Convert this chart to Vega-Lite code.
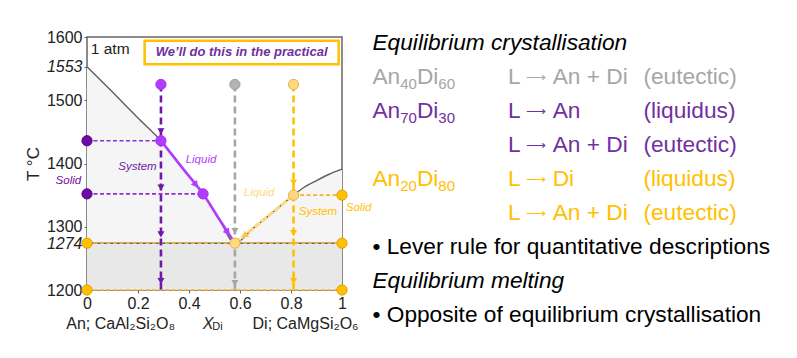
{
  "$schema": "https://vega.github.io/schema/vega-lite/v6.json",
  "padding": {"left": 23, "top": 28, "right": 0, "bottom": 0},
  "config": {"font": "Liberation Sans", "view": {"stroke": null}},
  "bounds": "flush",
  "spacing": 21,
  "resolve": {"scale": {"x": "independent", "y": "independent", "color": "independent"}},
  "datasets": {
    "band": [{"x": 0, "x2": 1, "T": 1200, "T2": 1274}],
    "curve": [
      {"x": 0, "T": 1553}, {"x": 0.1, "T": 1513}, {"x": 0.2, "T": 1472}, {"x": 0.29, "T": 1436},
      {"x": 0.38, "T": 1390}, {"x": 0.455, "T": 1352}, {"x": 0.52, "T": 1311}, {"x": 0.58, "T": 1274},
      {"x": 0.65, "T": 1297}, {"x": 0.72, "T": 1320}, {"x": 0.81, "T": 1350}, {"x": 0.85, "T": 1362},
      {"x": 0.9, "T": 1373}, {"x": 0.95, "T": 1383}, {"x": 1, "T": 1391}
    ],
    "ties": [
      {"x": 0, "x2": 1, "T": 1274, "kind": "eutectic"},
      {"x": 0, "x2": 1, "T": 1200, "kind": "solidus"},
      {"x": 0, "x2": 0.29, "T": 1436, "kind": "An70Di30"},
      {"x": 0, "x2": 0.455, "T": 1352, "kind": "An70Di30"},
      {"x": 0.81, "x2": 1, "T": 1350, "kind": "An20Di80"}
    ],
    "drops": [
      {"key": "An70Di30", "x": 0.29, "T": 1525, "T2": 1200},
      {"key": "An40Di60", "x": 0.58, "T": 1525, "T2": 1200},
      {"key": "An20Di80", "x": 0.81, "T": 1525, "T2": 1200}
    ],
    "arrows": [
      {"key": "An70Di30", "dir": "down", "x": 0.29, "T": 1451},
      {"key": "An70Di30", "dir": "down", "x": 0.29, "T": 1362},
      {"key": "An70Di30", "dir": "down", "x": 0.29, "T": 1288},
      {"key": "An70Di30", "dir": "down", "x": 0.29, "T": 1214},
      {"key": "An40Di60", "dir": "down", "x": 0.58, "T": 1293},
      {"key": "An40Di60", "dir": "down", "x": 0.58, "T": 1211},
      {"key": "An20Di80", "dir": "down", "x": 0.81, "T": 1370},
      {"key": "An20Di80", "dir": "down", "x": 0.81, "T": 1290},
      {"key": "An20Di80", "dir": "down", "x": 0.81, "T": 1214},
      {"key": "An70Di30 liquid", "dir": "right", "x": 0.427, "T": 1366},
      {"key": "An70Di30 liquid", "dir": "right", "x": 0.552, "T": 1291},
      {"key": "An20Di80 arrow", "dir": "left", "x": 0.617, "T": 1286}
    ],
    "points": [
      {"key": "An70Di30 liquid", "x": 0.29, "T": 1525},
      {"key": "An70Di30 liquid", "x": 0.29, "T": 1436},
      {"key": "An70Di30 liquid", "x": 0.455, "T": 1352},
      {"key": "An70Di30 solid", "x": 0, "T": 1436},
      {"key": "An70Di30 solid", "x": 0, "T": 1352},
      {"key": "An40Di60 liquid", "x": 0.58, "T": 1525},
      {"key": "An20Di80 liquid", "x": 0.81, "T": 1525},
      {"key": "An20Di80 liquid", "x": 0.81, "T": 1350},
      {"key": "An20Di80 liquid", "x": 0.58, "T": 1274},
      {"key": "An20Di80 solid", "x": 1, "T": 1350},
      {"key": "An20Di80 solid", "x": 0, "T": 1274},
      {"key": "An20Di80 solid", "x": 1, "T": 1274},
      {"key": "An20Di80 solid", "x": 0, "T": 1200},
      {"key": "An20Di80 solid", "x": 1, "T": 1200}
    ],
    "labels": [
      {"key": "An70Di30", "x": 0.198, "T": 1395, "text": "System"},
      {"key": "An70Di30 liquid", "x": 0.447, "T": 1405, "text": "Liquid"},
      {"key": "An70Di30 solid", "x": -0.073, "T": 1372, "text": "Solid"},
      {"key": "An20Di80 liquid", "x": 0.675, "T": 1353, "text": "Liquid"},
      {"key": "An20Di80", "x": 0.906, "T": 1324, "text": "System"},
      {"key": "An20Di80", "x": 1.065, "T": 1330, "text": "Solid"}
    ],
    "box": [{"x": 0.226, "x2": 0.987, "T": 1594, "T2": 1557, "text": "We’ll do this in the practical"}],
    "atm": [{"x": 0.015, "T": 1581.5, "text": "1 atm"}],
    "axisText": [
      {"x": 0.132, "T": 1146, "text": "An; CaAl₂Si₂O₈", "part": "name"},
      {"x": 0.475, "T": 1146, "text": "X", "part": "symbol"},
      {"x": 0.512, "T": 1141, "text": "Di", "part": "sub"},
      {"x": 0.857, "T": 1146, "text": "Di; CaMgSi₂O₆", "part": "name"}
    ],
    "notes": [
      {"row": 0, "col": 0, "text": "Equilibrium crystallisation", "kind": "heading", "part": "heading"},
      {"row": 1, "col": 0, "text": "An", "kind": "An40Di60", "part": "main"},
      {"row": 1, "col": 0.205, "text": "40", "kind": "An40Di60", "part": "sub"},
      {"row": 1, "col": 0.328, "text": "Di", "kind": "An40Di60", "part": "main"},
      {"row": 1, "col": 0.486, "text": "60", "kind": "An40Di60", "part": "sub"},
      {"row": 1, "col": 1, "text": "L", "kind": "An40Di60", "part": "main"},
      {"row": 1, "col": 1.133, "text": "⟶", "kind": "An40Di60", "part": "arrow"},
      {"row": 1, "col": 1.33, "text": "An + Di", "kind": "An40Di60", "part": "main"},
      {"row": 1, "col": 2, "text": "(eutectic)", "kind": "An40Di60", "part": "main"},
      {"row": 2, "col": 0, "text": "An", "kind": "An70Di30", "part": "main"},
      {"row": 2, "col": 0.205, "text": "70", "kind": "An70Di30", "part": "sub"},
      {"row": 2, "col": 0.328, "text": "Di", "kind": "An70Di30", "part": "main"},
      {"row": 2, "col": 0.486, "text": "30", "kind": "An70Di30", "part": "sub"},
      {"row": 2, "col": 1, "text": "L", "kind": "An70Di30", "part": "main"},
      {"row": 2, "col": 1.133, "text": "⟶", "kind": "An70Di30", "part": "arrow"},
      {"row": 2, "col": 1.33, "text": "An", "kind": "An70Di30", "part": "main"},
      {"row": 2, "col": 2, "text": "(liquidus)", "kind": "An70Di30", "part": "main"},
      {"row": 3, "col": 1, "text": "L", "kind": "An70Di30", "part": "main"},
      {"row": 3, "col": 1.133, "text": "⟶", "kind": "An70Di30", "part": "arrow"},
      {"row": 3, "col": 1.33, "text": "An + Di", "kind": "An70Di30", "part": "main"},
      {"row": 3, "col": 2, "text": "(eutectic)", "kind": "An70Di30", "part": "main"},
      {"row": 4, "col": 0, "text": "An", "kind": "An20Di80", "part": "main"},
      {"row": 4, "col": 0.205, "text": "20", "kind": "An20Di80", "part": "sub"},
      {"row": 4, "col": 0.328, "text": "Di", "kind": "An20Di80", "part": "main"},
      {"row": 4, "col": 0.486, "text": "80", "kind": "An20Di80", "part": "sub"},
      {"row": 4, "col": 1, "text": "L", "kind": "An20Di80", "part": "main"},
      {"row": 4, "col": 1.133, "text": "⟶", "kind": "An20Di80", "part": "arrow"},
      {"row": 4, "col": 1.33, "text": "Di", "kind": "An20Di80", "part": "main"},
      {"row": 4, "col": 2, "text": "(liquidus)", "kind": "An20Di80", "part": "main"},
      {"row": 5, "col": 1, "text": "L", "kind": "An20Di80", "part": "main"},
      {"row": 5, "col": 1.133, "text": "⟶", "kind": "An20Di80", "part": "arrow"},
      {"row": 5, "col": 1.33, "text": "An + Di", "kind": "An20Di80", "part": "main"},
      {"row": 5, "col": 2, "text": "(eutectic)", "kind": "An20Di80", "part": "main"},
      {"row": 6, "col": 0, "text": "• Lever rule for quantitative descriptions", "kind": "bullet", "part": "main"},
      {"row": 7, "col": 0, "text": "Equilibrium melting", "kind": "heading", "part": "heading"},
      {"row": 8, "col": 0, "text": "• Opposite of equilibrium crystallisation", "kind": "bullet", "part": "main"}
    ]
  },
  "hconcat": [
    {
      "width": 255,
      "height": 253,
      "view": {"stroke": "#666666", "strokeWidth": 1.5},
      "encoding": {
        "x": {
          "field": "x", "type": "quantitative",
          "scale": {"domain": [0, 1], "nice": false, "zero": false},
          "axis": {
            "values": [0, 0.2, 0.4, 0.6, 0.8, 1], "labelExpr": "format(datum.value, '~g')",
            "title": null, "grid": false, "domain": false, "tickSize": 3, "tickColor": "#666666",
            "labelFontSize": 16, "labelColor": "#222222", "labelPadding": 2, "labelOverlap": false, "labelBound": false, "labelFlush": false
          }
        },
        "y": {
          "field": "T", "type": "quantitative",
          "scale": {"domain": [1200, 1600], "nice": false, "zero": false},
          "axis": {
            "values": [1200, 1274, 1300, 1400, 1500, 1553, 1600], "format": "d",
            "title": "T °C", "titleFontSize": 17, "titleFontWeight": "normal", "titleColor": "#222222", "titlePadding": 4,
            "grid": false, "domain": false, "tickSize": 3, "tickColor": "#666666",
            "labelFontSize": 16, "labelColor": "#222222", "labelPadding": 2, "labelOverlap": false, "labelBound": false, "labelFlush": false,
            "labelFontStyle": {"condition": {"test": "datum.value == 1553 || datum.value == 1274", "value": "italic"}, "value": "normal"}
          }
        }
      },
      "layer": [
        {"data": {"name": "band"}, "mark": {"type": "rect", "color": "#e8e8e8"},
         "encoding": {"x2": {"field": "x2"}, "y2": {"field": "T2"}}},
        {"data": {"name": "curve"}, "mark": {"type": "area", "color": "#f5f5f5", "interpolate": "monotone"},
         "encoding": {"y2": {"datum": 1274}}},
        {"data": {"name": "curve"}, "mark": {"type": "line", "color": "#5f5f5f", "strokeWidth": 1.4, "interpolate": "monotone"},
         "encoding": {}},
        {"data": {"name": "ties"}, "transform": [{"filter": "datum.kind == 'eutectic'"}],
         "mark": {"type": "rule", "color": "#5f5f5f", "strokeWidth": 1.5},
         "encoding": {"x2": {"field": "x2"}}},
        {"data": {"name": "ties"}, "transform": [{"filter": "datum.kind != 'An70Di30'"}],
         "mark": {"type": "rule", "color": "#f2b32a", "strokeWidth": 1.6, "strokeDash": [4, 2.5]},
         "encoding": {"x2": {"field": "x2"}}},
        {"data": {"name": "ties"}, "transform": [{"filter": "datum.kind == 'An70Di30'"}],
         "mark": {"type": "rule", "color": "#8e2fcf", "strokeWidth": 1.6, "strokeDash": [4, 2.5]},
         "encoding": {"x2": {"field": "x2"}}},
        {"data": {"name": "drops"},
         "mark": {"type": "rule", "strokeWidth": 2.6, "strokeDash": [7, 4]},
         "encoding": {
           "y2": {"field": "T2"},
           "color": {"field": "key", "type": "nominal", "legend": null,
             "scale": {"domain": ["An70Di30", "An40Di60", "An20Di80", "An70Di30 liquid", "An70Di30 solid", "An40Di60 liquid", "An20Di80 liquid", "An20Di80 solid", "An20Di80 arrow"],
                       "range": ["#6e1aa6", "#a6a6a6", "#ffc000", "#b23cfd", "#6c0ba3", "#b3b3b3", "#ffd97f", "#ffc000", "#ffc64a"]}}
         }},
        {"data": {"name": "curve"}, "transform": [{"filter": "datum.x >= 0.29 && datum.x <= 0.58"}],
         "mark": {"type": "line", "color": "#b23cfd", "strokeWidth": 2.6, "interpolate": "monotone"},
         "encoding": {}},
        {"data": {"name": "curve"}, "transform": [{"filter": "datum.x >= 0.58 && datum.x <= 0.81"}],
         "mark": {"type": "line", "color": "#ffd97f", "strokeWidth": 3.2, "strokeDash": [7, 1.5], "interpolate": "monotone"},
         "encoding": {}},
        {"data": {"name": "arrows"}, "transform": [{"filter": "datum.dir == 'down'"}],
         "mark": {"type": "point", "shape": "triangle-down", "filled": true, "opacity": 1, "size": 50},
         "encoding": {
           "color": {"field": "key", "type": "nominal", "legend": null,
             "scale": {"domain": ["An70Di30", "An40Di60", "An20Di80", "An70Di30 liquid", "An70Di30 solid", "An40Di60 liquid", "An20Di80 liquid", "An20Di80 solid", "An20Di80 arrow"],
                       "range": ["#6e1aa6", "#a6a6a6", "#ffc000", "#b23cfd", "#6c0ba3", "#b3b3b3", "#ffd97f", "#ffc000", "#ffc64a"]}}
         }},
        {"data": {"name": "arrows"}, "transform": [{"filter": "datum.dir == 'right'"}],
         "mark": {"type": "point", "shape": "triangle-down", "filled": true, "opacity": 1, "size": 60, "angle": -36},
         "encoding": {"color": {"field": "key", "type": "nominal", "legend": null}}},
        {"data": {"name": "arrows"}, "transform": [{"filter": "datum.dir == 'left'"}],
         "mark": {"type": "point", "shape": "triangle-down", "filled": true, "opacity": 1, "size": 60, "angle": 51},
         "encoding": {"color": {"field": "key", "type": "nominal", "legend": null}}},
        {"data": {"name": "points"},
         "mark": {"type": "point", "shape": "circle", "filled": true, "opacity": 1, "size": 105, "strokeWidth": 1},
         "encoding": {
           "color": {"field": "key", "type": "nominal", "legend": null},
           "stroke": {"field": "key", "type": "nominal", "legend": null,
             "scale": {"domain": ["An70Di30 liquid", "An70Di30 solid", "An40Di60 liquid", "An20Di80 liquid", "An20Di80 solid"],
                       "range": ["#a52ff0", "#5c0890", "#a0a0a0", "#e0b050", "#e0a000"]}}
         }},
        {"data": {"name": "labels"},
         "mark": {"type": "text", "fontSize": 11.5, "fontStyle": "italic", "align": "center", "baseline": "middle"},
         "encoding": {"text": {"field": "text"}, "color": {"field": "key", "type": "nominal", "legend": null}}},
        {"data": {"name": "box"},
         "mark": {"type": "rect", "fill": "#ffffff", "stroke": "#ffc000", "strokeWidth": 2.5},
         "encoding": {"x2": {"field": "x2"}, "y2": {"field": "T2"}}},
        {"data": {"name": "box"},
         "transform": [{"calculate": "(datum.x + datum.x2) / 2", "as": "xc"}, {"calculate": "(datum.T + datum.T2) / 2", "as": "Tc"}],
         "mark": {"type": "text", "fontSize": 13, "fontStyle": "italic", "fontWeight": "bold", "color": "#7030a0", "align": "center", "baseline": "middle"},
         "encoding": {"x": {"field": "xc", "type": "quantitative"}, "y": {"field": "Tc", "type": "quantitative"}, "text": {"field": "text"}}},
        {"data": {"name": "atm"},
         "mark": {"type": "text", "fontSize": 15.5, "color": "#222222", "align": "left", "baseline": "middle"},
         "encoding": {"text": {"field": "text"}}},
        {"data": {"name": "axisText"}, "transform": [{"filter": "datum.part == 'name'"}],
         "mark": {"type": "text", "fontSize": 16, "color": "#222222", "align": "center", "baseline": "middle"},
         "encoding": {"text": {"field": "text"}}},
        {"data": {"name": "axisText"}, "transform": [{"filter": "datum.part == 'symbol'"}],
         "mark": {"type": "text", "fontSize": 16, "fontStyle": "italic", "color": "#222222", "align": "center", "baseline": "middle"},
         "encoding": {"text": {"field": "text"}}},
        {"data": {"name": "axisText"}, "transform": [{"filter": "datum.part == 'sub'"}],
         "mark": {"type": "text", "fontSize": 11, "color": "#222222", "align": "center", "baseline": "middle"},
         "encoding": {"text": {"field": "text"}}}
      ]
    },
    {
      "width": 420,
      "height": 290,
      "view": {"stroke": null},
      "data": {"name": "notes"},
      "encoding": {
        "x": {"field": "col", "type": "quantitative", "axis": null, "scale": {"domain": [-0.07, 3.03], "nice": false, "zero": false}},
        "y": {"field": "row", "type": "quantitative", "axis": null, "scale": {"domain": [-0.168, 8.361], "nice": false, "zero": false, "reverse": true}},
        "text": {"field": "text"},
        "color": {"field": "kind", "type": "nominal", "legend": null,
          "scale": {"domain": ["heading", "bullet", "An40Di60", "An70Di30", "An20Di80"], "range": ["#000000", "#000000", "#a6a6a6", "#7030a0", "#ffc000"]}}
      },
      "layer": [
        {"transform": [{"filter": "datum.part == 'heading'"}],
         "mark": {"type": "text", "fontSize": 22.7, "fontStyle": "italic", "align": "left", "baseline": "middle"}},
        {"transform": [{"filter": "datum.part == 'main'"}],
         "mark": {"type": "text", "fontSize": 22.7, "align": "left", "baseline": "middle"}},
        {"transform": [{"filter": "datum.part == 'sub'"}],
         "mark": {"type": "text", "fontSize": 15, "align": "left", "baseline": "middle", "dy": 7}},
        {"transform": [{"filter": "datum.part == 'arrow'"}],
         "mark": {"type": "text", "fontSize": 13.5, "align": "left", "baseline": "middle", "dy": 1}}
      ]
    }
  ]
}
